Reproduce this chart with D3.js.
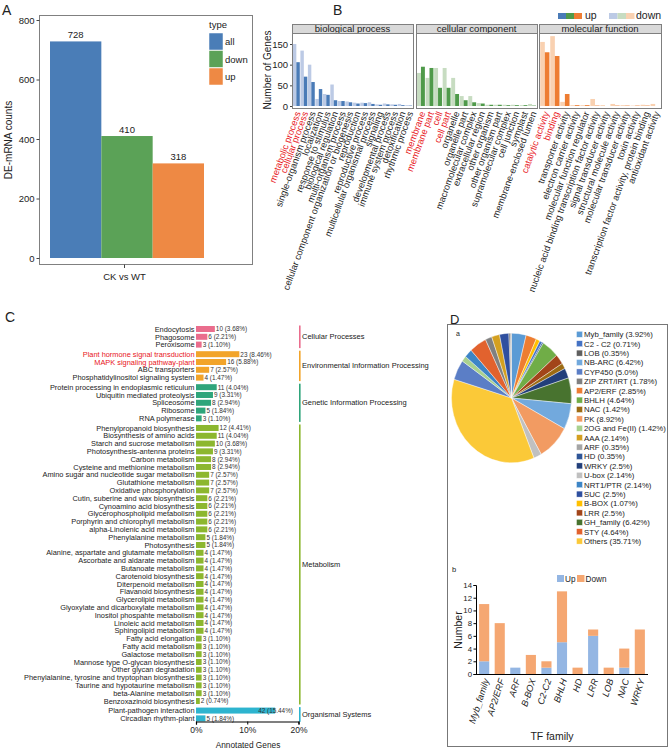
<!DOCTYPE html>
<html><head><meta charset="utf-8">
<script src="https://cdn.jsdelivr.net/npm/d3@7"></script>
<style>body{margin:0;background:#fff}svg{font-family:"Liberation Sans",Arial,sans-serif}</style>
</head><body><svg id="c" width="669" height="749"></svg>
<script>
// ---------- DATA ----------
// Panel A
const aTypes = ["all", "down", "up"];
const aCounts = [728, 410, 318];
const aTicks = [0, 200, 400, 600, 800];
// Panel B (GO)
const bpTerms = ["metabolic process","cellular process","single-organism process","localization","response to stimulus","biological regulation","multi-organism process","cellular component organization or biogenesis","reproduction","reproductive process","multicellular organismal process","signaling","developmental process","immune system process","detoxification","rhythmic process"];
const bpDown = [150,134,100,17,29,52,12,11,8,8,9,4,6,4,5,2];
const bpUp   = [106,71,58,41,27,14,12,9,6,7,5,3,4,3,2,1];
const ccTerms = ["membrane","membrane part","cell","cell part","organelle","organelle part","macromolecular complex","extracellular region","other organism","other organism part","supramolecular complex","cell junction","symplast","membrane-enclosed lumen"];
const ccDown = [80,68,92,92,68,24,24,7,3,3,3,3,2,5];
const ccUp   = [95,92,44,44,29,14,9,6,3,3,2,2,2,1];
const mfTerms = ["catalytic activity","binding","transporter activity","electron carrier activity","molecular function regulator","nucleic acid binding transcription factor activity","signal transducer activity","structural molecule activity","molecular transducer activity","toxin activity","transcription factor activity, protein binding","antioxidant activity"];
const mfDown = [155,169,10,2,2,17,2,5,2,1,3,5];
const mfUp   = [130,121,29,2,2,1,0,1,1,1,1,0];
const goHighlighted = ["metabolic process","cellular process","membrane","membrane part","cell","cell part","catalytic activity","binding"];
const goTicks = [0,50,100,150];
// Panel C (KEGG)
const keggClasses = ["Cellular Processes","Environmental Information Processing","Genetic Information Processing","Metabolism","Organismal Systems"];
const keggClassSizes = [3,4,5,36,2];
const keggTerms = ["Endocytosis","Phagosome","Peroxisome",
 "Plant hormone signal transduction","MAPK signaling pathway-plant","ABC transporters","Phosphatidylinositol signaling system",
 "Protein processing in endoplasmic reticulum","Ubiquitin mediated proteolysis","Spliceosome","Ribosome","RNA polymerase",
 "Phenylpropanoid biosynthesis","Biosynthesis of amino acids","Starch and sucrose metabolism","Photosynthesis-antenna proteins","Carbon metabolism","Cysteine and methionine metabolism","Amino sugar and nucleotide sugar metabolism","Glutathione metabolism","Oxidative phosphorylation","Cutin, suberine and wax biosynthesis","Cynoamino acid biosynthesis","Glycerophospholipid metabolism","Porphyrin and chlorophyll metabolism","alpha-Linolenic acid metabolism","Phenylalanine metabolism","Photosynthesis","Alanine, aspartate and glutamate metabolism","Ascorbate and aldarate metabolism","Butanoate metabolism","Carotenoid biosynthesis","Diterpenoid metabolism","Flavanoid biosynthesis","Glycerolipid metabolism","Glyoxylate and dicarboxylate metabolism","Inositol phospahte metabolism","Linoleic acid metabolism","Sphingolipid metabolism","Fatty acid elongation","Fatty acid metabolism","Galactose metabolism","Mannose type O-glycan biosynthesis","Other glycan degradation","Phenylalanine, tyrosine and tryptophan biosynthesis","Taurine and hypotaurine metabolism","beta-Alanine metabolism","Benzoxazinoid biosynthesis",
 "Plant-pathogen interaction","Circadian rhythm-plant"];
const keggCounts = [10,6,3, 23,16,7,4, 11,9,8,5,3, 12,11,10,9,8,8,7,7,7,6,6,6,6,6,5,5,4,4,4,4,4,4,4,4,4,4,4,3,3,3,3,3,3,3,3,2, 42,5];
const keggPcts = ["3.68","2.21","1.10", "8.46","5.88","2.57","1.47", "4.04","3.31","2.94","1.84","1.10",
 "4.41","4.04","3.68","3.31","2.94","2.94","2.57","2.57","2.57","2.21","2.21","2.21","2.21","2.21","1.84","1.84","1.47","1.47","1.47","1.47","1.47","1.47","1.47","1.47","1.47","1.47","1.47","1.10","1.10","1.10","1.10","1.10","1.10","1.10","1.10","0.74",
 "15.44","1.84"];
const keggHighlighted = ["Plant hormone signal transduction","MAPK signaling pathway-plant"];
const keggTicks = [0,10,20];
// Panel D (TF)
const tfNames = ["Myb_family","C2 - C2","LOB","NB-ARC","CYP450","ZIP ZRT/IRT","AP2/ERF","BHLH","NAC","PK","2OG and Fe(II)","AAA","ARF","HD","WRKY","U-box","NRT1/PTR","SUC","B-BOX","LRR","GH_family","STY","Others"];
const tfPctText = ["3.92","0.71","0.35","6.42","5.0","1.78","2.85","4.64","1.42","8.92","1.42","2.14","0.35","0.35","2.5","2.14","2.14","2.5","1.07","2.5","6.42","4.64","35.71"];
const pieOrder = ["Myb_family","AP2/ERF","B-BOX","C2 - C2","HD","BHLH","LRR","NAC","WRKY","GH_family","NB-ARC","PK","U-box","Others","CYP450","2OG and Fe(II)","NRT1/PTR","STY","ZIP ZRT/IRT","AAA","SUC","LOB","ARF"];
const tfFamilies = ["Myb_family","AP2/ERF","ARF","B-BOX","C2-C2","BHLH","HD","LRR","LOB","NAC","WRKY"];
const tfUp   = [2,0,1,0,1,5,0,6,0,1,0];
const tfDown = [9,8,0,3,1,8,1,1,1,3,7];
const tfTicks = [0,2,4,6,8,10,12,14];

// ---------- STYLES ----------
const aColors = ["#4a7db7","#5ba257","#ee8944"];
const goDark = ["#4a7bb7","#4f9a4a","#ee7d32"];
const goLight = ["#bccae5","#c7dcc1","#f9d1b1"];
const keggColors = ["#ea6d8d","#f2a42a","#2fa57b","#8cb72f","#2db4cf"];
const tfColors = ["#5b9bd5","#4472c4","#5f5f5f","#72a9dd","#5b7ec6","#808080","#ed7d31","#70ad47","#9c6b13","#f29b62","#a9d18e","#d4a020","#a5a5a5","#2e5597","#223f7a","#c0c0c0","#3d85c6","#2f4f9f","#ffc000","#a2451a","#48732f","#e2622e","#fbc938"];
const upCol = "#94b6e3", downCol = "#f5a772";
const ink = "#222";

const svg = d3.select("#c");
function label(g, x, y, s, size, opts = {}) {
  const t = g.append("text").attr("x", x).attr("y", y).text(s)
    .attr("font-size", size).attr("fill", opts.fill || ink);
  if (opts.anchor) t.attr("text-anchor", opts.anchor);
  if (opts.rotate) t.attr("transform", `rotate(${opts.rotate},${x},${y})`);
  if (opts.style) t.attr("font-style", opts.style);
  if (opts.dy) t.attr("dy", opts.dy);
  return t;
}

// ---------- PANEL A ----------
{
  const g = svg.append("g");
  label(g, 2, 15, "A", 14);
  const y = d3.scaleLinear().domain([0, 800]).range([258, 20]);
  const x = d3.scaleBand().domain(aTypes).range([50, 204]);
  g.selectAll("rect.bar").data(aTypes).join("rect")
    .attr("x", d => x(d)).attr("width", x.bandwidth())
    .attr("y", (d, i) => y(aCounts[i])).attr("height", (d, i) => y(0) - y(aCounts[i]))
    .attr("fill", (d, i) => aColors[i]);
  aTypes.forEach((d, i) => label(g, x(d) + x.bandwidth() / 2, y(aCounts[i]) - 3, aCounts[i], 9.5, {anchor: "middle"}));
  g.append("rect").attr("x", 39.5).attr("y", 15.5).attr("width", 213).attr("height", 249).attr("fill", "none").attr("stroke", "#808080");
  const ax = g.append("g").attr("transform", "translate(39.5,0)")
    .call(d3.axisLeft(y).tickValues(aTicks).tickSize(3).tickPadding(2));
  ax.select(".domain").remove();
  ax.selectAll("line").attr("stroke", "#444");
  ax.selectAll("text").attr("font-size", 9.5).attr("fill", ink).attr("font-family", "Liberation Sans, Arial");
  g.append("line").attr("x1", 124.5).attr("x2", 124.5).attr("y1", 264.5).attr("y2", 268).attr("stroke", "#444");
  label(g, 124.5, 280, "CK vs WT", 9.5, {anchor: "middle"});
  label(g, 12, 140, "DE-mRNA counts", 10, {anchor: "middle", rotate: -90});
  label(g, 209, 28, "type", 9.5);
  aTypes.forEach((d, i) => {
    g.append("rect").attr("x", 209).attr("y", 33 + i * 17.5).attr("width", 14).attr("height", 17)
      .attr("fill", aColors[i]).attr("stroke", "#fff").attr("stroke-width", 0.5);
    label(g, 225, 33 + i * 17.5 + 12, d, 9.5);
  });
}

// ---------- PANEL B ----------
{
  const g = svg.append("g");
  label(g, 333, 15, "B", 14);
  const y = d3.scaleLinear().domain([0, 150]).range([106, 44]);
  const facets = [
    {name: "biological process", terms: bpTerms, up: bpUp, down: bpDown, x0: 292, x1: 413},
    {name: "cellular component", terms: ccTerms, up: ccUp, down: ccDown, x0: 416, x1: 537},
    {name: "molecular function", terms: mfTerms, up: mfUp, down: mfDown, x0: 539, x1: 661}
  ];
  facets.forEach((f, fi) => {
    const x = d3.scaleBand().domain(f.terms).range([f.x0, f.x1]).paddingOuter(0.08).paddingInner(0);
    const bw = x.bandwidth() * 0.92 / 2;
    const off = x.bandwidth() * 0.04;
    g.append("rect").attr("x", f.x0 + 0.5).attr("y", 24.5).attr("width", f.x1 - f.x0).attr("height", 9)
      .attr("fill", "#d9d9d9").attr("stroke", "#7f7f7f");
    label(g, (f.x0 + f.x1) / 2, 32, f.name, 9.5, {anchor: "middle"});
    g.selectAll(null).data(f.terms).join("rect")
      .attr("x", d => x(d) + off).attr("width", bw)
      .attr("y", (d, i) => y(f.down[i])).attr("height", (d, i) => y(0) - y(f.down[i]))
      .attr("fill", goLight[fi]);
    g.selectAll(null).data(f.terms).join("rect")
      .attr("x", d => x(d) + off + bw).attr("width", bw)
      .attr("y", (d, i) => y(f.up[i])).attr("height", (d, i) => y(0) - y(f.up[i]))
      .attr("fill", goDark[fi]);
    g.append("rect").attr("x", f.x0 + 0.5).attr("y", 33.5).attr("width", f.x1 - f.x0).attr("height", 75)
      .attr("fill", "none").attr("stroke", "#7f7f7f");
    f.terms.forEach(t => {
      const cx = x(t) + x.bandwidth() / 2 + 2;
      label(g, cx, 112, t, 9.3, {anchor: "end", rotate: -70, fill: goHighlighted.includes(t) ? "#e8151b" : ink, dy: "0.3em"});
    });
  });
  const ax = g.append("g").attr("transform", "translate(292,0)")
    .call(d3.axisLeft(y).tickValues(goTicks).tickSize(2).tickPadding(2));
  ax.select(".domain").remove();
  ax.selectAll("line").attr("stroke", "#444");
  ax.selectAll("text").attr("font-size", 9.5).attr("fill", ink).attr("font-family", "Liberation Sans, Arial");
  label(g, 271, 70, "Number of Genes", 10, {anchor: "middle", rotate: -90});
  // legend
  goDark.forEach((c, i) => g.append("rect").attr("x", 558 + i * 8).attr("y", 13).attr("width", 8).attr("height", 6).attr("fill", c));
  label(g, 585, 19, "up", 10.5);
  goLight.forEach((c, i) => g.append("rect").attr("x", 609 + i * 8.5).attr("y", 13).attr("width", 8.5).attr("height", 6).attr("fill", c));
  label(g, 636, 19, "down", 10.5);
}

// ---------- PANEL C ----------
{
  const g = svg.append("g");
  label(g, 5, 322, "C", 14);
  const groupOf = [];
  keggClassSizes.forEach((n, gi) => { for (let k = 0; k < n; k++) groupOf.push(gi); });
  const slot = d3.scaleLinear().domain([0, 1]).range([329, 336.8]);
  const gap = 0.23;
  const yc = i => slot(i + groupOf[i] * gap);
  const x = d3.scaleLinear().domain([0, 20]).range([196, 298.5]);
  keggTerms.forEach((t, i) => {
    const p = +keggPcts[i];
    g.append("rect").attr("x", x(0)).attr("y", yc(i) - 3).attr("width", x(p) - x(0)).attr("height", 6)
      .attr("fill", keggColors[groupOf[i]]);
    label(g, 194.5, yc(i) + 2.7, t, 7.4, {anchor: "end", fill: keggHighlighted.includes(t) ? "#e8151b" : ink});
    const lx = p > 12 ? x(p) - 17 : x(p) + 1;
    label(g, lx, yc(i) + 2.4, `${keggCounts[i]} (${keggPcts[i]}%)`, 6.4, {fill: "#333"});
  });
  // class bars
  let start = 0;
  keggClassSizes.forEach((n, gi) => {
    const top = yc(start) - 3.5, bot = yc(start + n - 1) + 3.5;
    g.append("rect").attr("x", 299).attr("y", top).attr("width", 1.6).attr("height", bot - top).attr("fill", keggColors[gi]);
    label(g, 302, (top + bot) / 2 + 2.5, keggClasses[gi], 7.5);
    start += n;
  });
  const ax = g.append("g").attr("transform", "translate(0,721.5)")
    .call(d3.axisBottom(x).tickValues(keggTicks).tickFormat(d => d + "%").tickSize(3).tickPadding(2));
  ax.select(".domain").attr("stroke", "#000").attr("stroke-width", 1.2);
  ax.selectAll("line").attr("stroke", "#000");
  ax.selectAll("text").attr("font-size", 8.5).attr("fill", ink).attr("font-family", "Liberation Sans, Arial");
  label(g, 248, 748, "Annotated Genes", 8.3, {anchor: "middle"});
}

// ---------- PANEL D ----------
{
  const g = svg.append("g");
  g.append("rect").attr("x", 447.5).attr("y", 324.5).attr("width", 220).attr("height", 422)
    .attr("fill", "none").attr("stroke", "#777");
  label(g, 450, 324, "D", 13);
  label(g, 456, 336, "a", 7);
  const pctOf = n => +tfPctText[tfNames.indexOf(n)];
  const colOf = n => tfColors[tfNames.indexOf(n)];
  const pie = d3.pie().sort(null).value(d => pctOf(d));
  const arc = d3.arc().innerRadius(0).outerRadius(60);
  const pg = g.append("g").attr("transform", "translate(511.5,398) scale(1,1.08)");
  pg.selectAll("path").data(pie(pieOrder)).join("path")
    .attr("d", arc).attr("fill", d => colOf(d.data)).attr("stroke", "#fff").attr("stroke-width", 0.4);
  tfNames.forEach((n, i) => {
    const yy = 334.3 + i * 9.4;
    g.append("rect").attr("x", 576.5).attr("y", yy - 3).attr("width", 6).attr("height", 6)
      .attr("fill", tfColors[i]).attr("stroke", "#fff").attr("stroke-width", 0.4);
    label(g, 584, yy + 2.8, `${n} (${tfPctText[i]}%)`, 7.8);
  });
  // b: stacked bar
  label(g, 452, 572, "b", 7.5);
  const x = d3.scaleBand().domain(tfFamilies).range([476, 648]).paddingInner(0.35).paddingOuter(0.2);
  const y = d3.scaleLinear().domain([0, 14]).range([674, 585]);
  g.selectAll(null).data(tfFamilies).join("rect")
    .attr("x", d => x(d)).attr("width", x.bandwidth())
    .attr("y", (d, i) => y(tfUp[i])).attr("height", (d, i) => y(0) - y(tfUp[i])).attr("fill", upCol);
  g.selectAll(null).data(tfFamilies).join("rect")
    .attr("x", d => x(d)).attr("width", x.bandwidth())
    .attr("y", (d, i) => y(tfUp[i] + tfDown[i])).attr("height", (d, i) => y(tfUp[i]) - y(tfUp[i] + tfDown[i])).attr("fill", downCol);
  const ay = g.append("g").attr("transform", "translate(476,0)")
    .call(d3.axisLeft(y).tickValues(tfTicks).tickSize(2.5).tickPadding(1.5));
  ay.select(".domain").attr("stroke", "#000");
  ay.selectAll("line").attr("stroke", "#000");
  ay.selectAll("text").attr("font-size", 7.8).attr("fill", ink).attr("font-family", "Liberation Sans, Arial");
  g.append("line").attr("x1", 476).attr("x2", 648).attr("y1", 674.5).attr("y2", 674.5).attr("stroke", "#000").attr("stroke-width", 1.2);
  tfFamilies.forEach(f => label(g, x(f) + x.bandwidth() / 2 + 2, 679, f, 9.2, {anchor: "end", rotate: -72, style: "italic", dy: "0.35em"}));
  label(g, 461.5, 630, "Number", 10.5, {anchor: "middle", rotate: -90});
  label(g, 552, 740, "TF family", 10.5, {anchor: "middle"});
  g.append("rect").attr("x", 557).attr("y", 575).attr("width", 7).attr("height", 7).attr("fill", upCol);
  label(g, 565, 581.5, "Up", 8.2);
  g.append("rect").attr("x", 577).attr("y", 575).attr("width", 7.5).attr("height", 7).attr("fill", downCol);
  label(g, 585.5, 581.5, "Down", 8.2);
}
</script></body></html>
